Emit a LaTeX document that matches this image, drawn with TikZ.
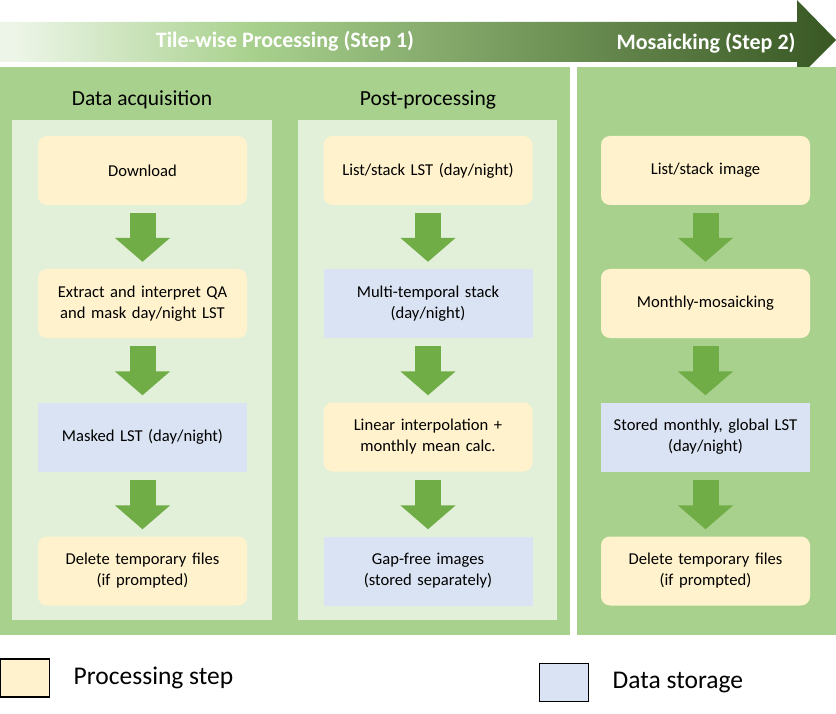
\documentclass[tikz,border=0pt]{standalone}
\usepackage{fontspec}
\setmainfont{Carlito}
\usetikzlibrary{arrows.meta,positioning}

\definecolor{procfill}{HTML}{FFF2CC}
\definecolor{datafill}{HTML}{DAE3F3}
\definecolor{stepgreen}{HTML}{A9D18E}
\definecolor{panelgreen}{HTML}{E2F0D9}
\definecolor{arrowgreen}{HTML}{70AD47}
\definecolor{bandlight}{HTML}{ECF5E7}
\definecolor{banddark}{HTML}{385723}
% path spans 25bp..75bp of the shading
\pgfdeclarehorizontalshading{bandshade}{100bp}{color(0bp)=(bandlight);
    color(26bp)=(bandlight); color(40bp)=(stepgreen); color(75bp)=(banddark);
    color(100bp)=(banddark)}

\begin{document}
\begin{tikzpicture}[x=1pt,y=-1pt,
    boxtext/.style={font={\fontsize{16.6}{21}\selectfont}},
    procstep/.style={boxtext,fill=procfill,rounded corners=9pt,
        minimum width=209pt,minimum height=69pt,text width=200pt,align=center},
    datastore/.style={boxtext,fill=datafill,
        minimum width=209pt,minimum height=69pt,text width=200pt,align=center},
    flow/.style={arrowgreen,line width=26pt,shorten <=8pt,shorten >=7pt,
        -{Triangle[width=54pt,length=24pt]}},
    header/.style={font={\fontsize{21.5}{25}\selectfont}},
    steplabel/.style={text=white,font={\fontsize{22}{25}\selectfont\bfseries}},
    legendbox/.style={draw=black,line width=1.4pt,minimum width=49pt,minimum height=38pt},
    legendtext/.style={font={\fontsize{25.5}{30}\selectfont}}]
\useasboundingbox (0,0) rectangle (836,714);

% top arrow
\shade[shading=bandshade]
    (0,22)--(797,22)--(797,0)--(836,40)--(797,79)--(797,62)--(0,62)--cycle;
\node[steplabel] (tilewise) at (285,41) {Tile-wise Processing (Step 1)};
\node[steplabel] (mosaic) at (706,43) {Mosaicking (Step 2)};

% panels
\fill[stepgreen](0,67) rectangle (570,635);
\fill[stepgreen](577,67) rectangle (836,635);
\fill[panelgreen](12,120) rectangle (272,620);
\fill[panelgreen](298,120) rectangle (557,620);
\node[header] (acq) at (142,100) {Data acquisition};
\node[header] (post) at (428,100) {Post-processing};

% data acquisition
\node[procstep] (dl) at (142.5,170.5) {Download};
\node[procstep] (qa) at (142.5,303.5) {Extract and interpret QA\\and mask day/night LST};
\node[datastore] (masked) at (142.5,437) {Masked LST (day/night)};
\node[procstep] (del1) at (142.5,571) {Delete temporary files\\(if prompted)};
\draw[flow](dl)--(qa);
\draw[flow](qa)--(masked);
\draw[flow](masked)--(del1);

% post-processing
\node[procstep] (liststack) at (428,170.5) {List/stack LST (day/night)};
\node[datastore] (multi) at (428,303.5) {Multi-temporal stack\\(day/night)};
\node[procstep] (interp) at (428,437) {Linear interpolation +\\monthly mean calc.};
\node[datastore] (gapfree) at (428,571) {Gap-free images\\(stored separately)};
\draw[flow](liststack)--(multi);
\draw[flow](multi)--(interp);
\draw[flow](interp)--(gapfree);

% mosaicking
\node[procstep] (listimg) at (705.5,170.5) {List/stack image};
\node[procstep] (monthly) at (705.5,303.5) {Monthly-mosaicking};
\node[datastore] (stored) at (705.5,437) {Stored monthly, global LST\\(day/night)};
\node[procstep] (del2) at (705.5,571) {Delete temporary files\\(if prompted)};
\draw[flow](listimg)--(monthly);
\draw[flow](monthly)--(stored);
\draw[flow](stored)--(del2);

% legend
\node[legendbox,fill=procfill] (legproc) at (25,678) {};
\node[legendtext,right=20pt of legproc] (legproctext) {Processing step};
\node[legendbox,fill=datafill] (legdata) at (564,682.5) {};
\node[legendtext,right=20pt of legdata] (legdatatext) {Data storage};
\end{tikzpicture}
\end{document}
